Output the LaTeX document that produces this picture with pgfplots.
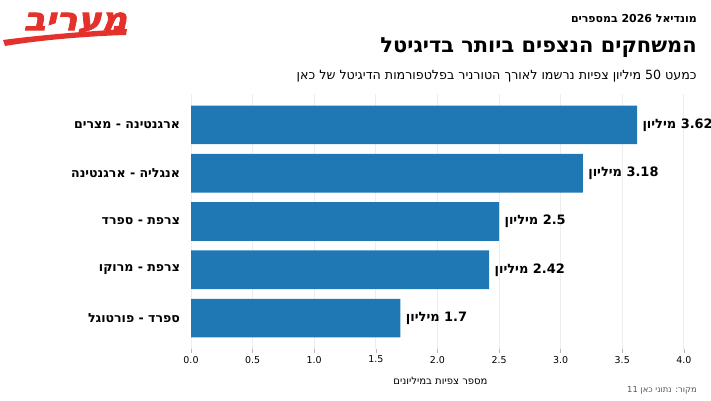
\documentclass[border=0pt]{standalone}
\usepackage{fontspec}
\usepackage{pgfplots}
\pgfplotsset{compat=1.18}
\setmainfont{DejaVu Sans}
\newfontfamily\heb[Script=Hebrew]{DejaVu Sans}
\newfontfamily\logofont[Script=Hebrew, FakeBold=2.5, FakeStretch=1.12]{DejaVu Sans Bold}
\TeXXeTstate=1
\definecolor{barblue}{HTML}{1F77B4}
\definecolor{logored}{HTML}{E4312B}
\definecolor{gridgray}{HTML}{EDEDED}
\definecolor{srcgray}{HTML}{555555}

\begin{document}
\begin{tikzpicture}[x=1bp,y=1bp]
\path[use as bounding box] (0,0) rectangle (711,400);

% logo
\fill[logored] (3,360) .. controls (40,365) and (90,369) .. (127,371)
  -- (126,365) .. controls (90,364) and (40,360) .. (5,354) -- cycle;
\node[text=logored, font=\logofont\fontsize{32}{32}\selectfont,
      xslant=0.22, transform shape, inner sep=0pt] at (77,377) {\beginR מעריב\endR};

% headings
\node[anchor=east, inner sep=0pt, font=\heb\bfseries\fontsize{11}{12}\selectfont]
  at (697,381) {\beginR מונדיאל 2026 במספרים\endR};
\node[anchor=east, inner sep=0pt, font=\heb\bfseries\fontsize{21}{22}\selectfont]
  at (697,352) {\beginR המשחקים הנצפים ביותר בדיגיטל\endR};
\node[anchor=east, inner sep=0pt, font=\heb\fontsize{12.7}{13}\selectfont]
  at (697,324) {\beginR כמעט 50 מיליון צפיות נרשמו לאורך הטורניר בפלטפורמות הדיגיטל של כאן\endR};
\node[anchor=east, inner sep=0pt, text=srcgray, font=\heb\fontsize{8.4}{9}\selectfont]
  at (697,10) {\beginR מקור: נתוני כאן 11\endR};

\begin{axis}[
  at={(191bp,51bp)}, anchor=south west,
  width=499bp, height=255bp, scale only axis,
  xmin=0, xmax=4.05, ymin=-0.64, ymax=4.64,
  xbar, bar width=0.8, bar shift=0pt,
  axis line style={draw=none},
  xtick={0,0.5,1,1.5,2,2.5,3,3.5,4},
  /pgf/number format/fixed, /pgf/number format/fixed zerofill,
  /pgf/number format/precision=1, /pgf/number format/assume math mode=true,
  xtick pos=bottom, tick align=outside,
  major tick length=3.5bp,
  xtick style={color=gray!55, line width=0.6bp},
  ytick={0,1,2,3,4},
  yticklabels={{\beginR ספרד - פורטוגל\endR},{\beginR צרפת - מרוקו\endR},{\beginR צרפת - ספרד\endR},{\beginR אנגליה - ארגנטינה\endR},{\beginR ארגנטינה - מצרים\endR}},
  ytick style={draw=none},
  yticklabel style={font=\heb\bfseries\fontsize{12.6}{13}\selectfont, xshift=-4bp},
  xticklabel style={font=\fontsize{9.5}{10}\selectfont},
  xmajorgrids, major grid style={gridgray, line width=0.8bp},
  xlabel={\beginR מספר צפיות במיליונים\endR},
  xlabel style={font=\heb\fontsize{10.1}{11}\selectfont, yshift=-7bp},
  point meta=explicit symbolic,
  nodes near coords={\beginR\pgfplotspointmeta\ מיליון\endR},
  nodes near coords style={anchor=west, xshift=2bp, text=black,
    font=\heb\bfseries\fontsize{13}{13}\selectfont},
]
\addplot[fill=barblue, draw=none] coordinates {
  (1.7,0) [1.7]
  (2.42,1) [2.42]
  (2.5,2) [2.5]
  (3.18,3) [3.18]
  (3.62,4) [3.62]
};
\end{axis}
\end{tikzpicture}
\end{document}
